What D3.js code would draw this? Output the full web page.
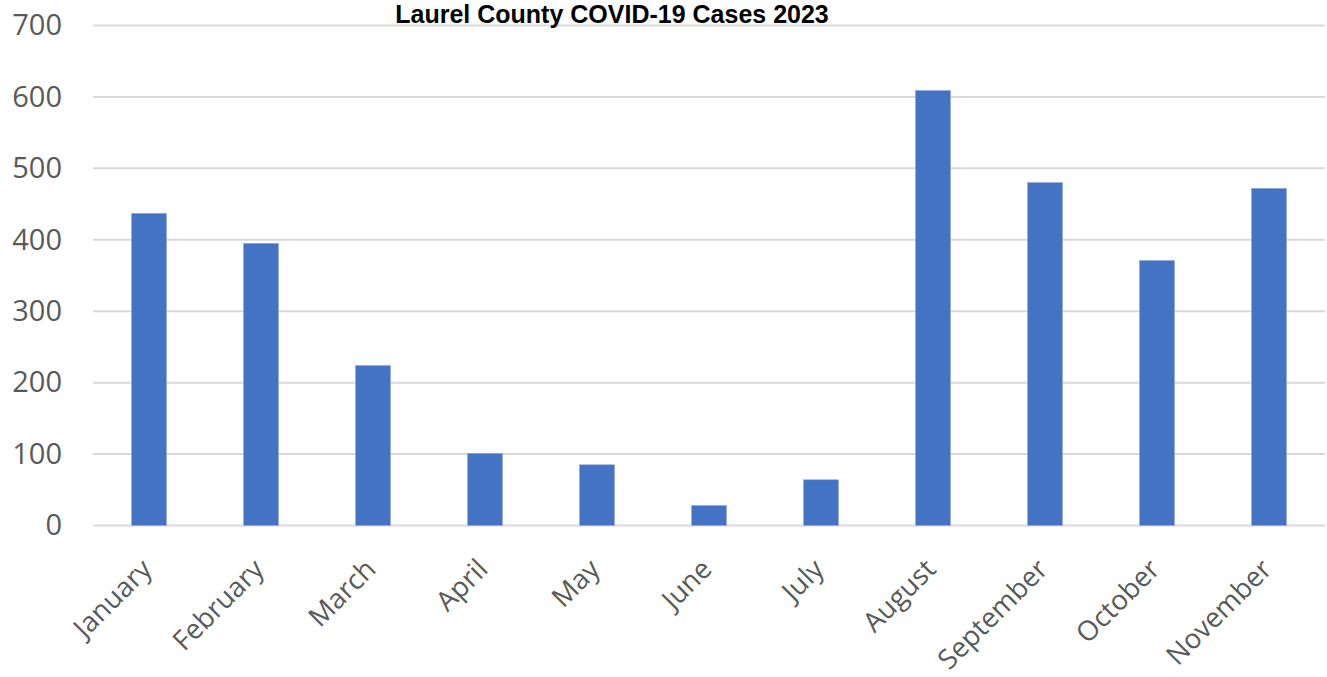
<!DOCTYPE html>
<html>
<head>
<meta charset="utf-8">
<script src="https://cdn.jsdelivr.net/npm/d3@7"></script>
<style>
  html, body { margin: 0; padding: 0; background: #fff; }
  svg { display: block; }
</style>
</head>
<body>
<svg id="chart" width="1327" height="677"></svg>
<script>
const title = "Laurel County COVID-19 Cases 2023";
const months = ["January","February","March","April","May","June","July","August","September","October","November"];
const cases = [437, 395, 224, 101, 85, 28, 64, 609, 480, 371, 472];
const yTicks = [0, 100, 200, 300, 400, 500, 600, 700];

const svg = d3.select("#chart");
const margin = {left: 93, right: 2, top: 25.5, bottom: 151.5};
const W = 1327, H = 677;

const x = d3.scaleBand()
  .domain(months)
  .range([margin.left, W - margin.right])
  .paddingInner(0.6875)
  .paddingOuter(0.34375);

const y = d3.scaleLinear()
  .domain([0, 700])
  .range([H - margin.bottom, margin.top]);

// gridlines
svg.append("g")
  .selectAll("line")
  .data(yTicks)
  .join("line")
  .attr("x1", margin.left)
  .attr("x2", W - margin.right)
  .attr("y1", d => y(d))
  .attr("y2", d => y(d))
  .attr("stroke", "#d9d9d9")
  .attr("stroke-width", 2);

// y axis labels
const yAxis = d3.axisLeft(y).tickValues(yTicks).tickSize(0).tickPadding(0);
const gy = svg.append("g")
  .attr("transform", `translate(62,0)`)
  .call(yAxis);
gy.select(".domain").remove();
gy.selectAll("text")
  .attr("font-family", "'Open Sans', 'Noto Sans', sans-serif")
  .attr("font-size", 29)
  .attr("fill", "#595959");

// bars
svg.append("g")
  .selectAll("rect")
  .data(months.map((m, i) => ({m, v: cases[i]})))
  .join("rect")
  .attr("x", d => x(d.m))
  .attr("width", x.bandwidth())
  .attr("y", d => y(d.v))
  .attr("height", d => y(0) - y(d.v))
  .attr("fill", "#4472C4")
  .attr("stroke", "#8faadc")
  .attr("stroke-width", 0.6);

// x axis labels
const xAxis = d3.axisBottom(x).tickSize(0).tickPadding(0);
const gx = svg.append("g")
  .attr("transform", `translate(0,${y(0)})`)
  .call(xAxis);
gx.select(".domain").remove();
gx.selectAll("text")
  .attr("font-family", "'Open Sans', 'Noto Sans', sans-serif")
  .attr("font-size", 27.5)
  .attr("fill", "#595959")
  .attr("text-anchor", "end")
  .attr("dy", null)
  .attr("y", 0)
  .attr("transform", "translate(-12,29) rotate(-45)")
  .attr("dominant-baseline", "hanging");

// title
svg.append("text")
  .attr("x", 612)
  .attr("y", 23)
  .attr("text-anchor", "middle")
  .attr("font-family", "'Liberation Sans', Arial, sans-serif")
  .attr("font-weight", "bold")
  .attr("font-size", 25)
  .attr("fill", "#000")
  .text(title);
</script>
</body>
</html>
